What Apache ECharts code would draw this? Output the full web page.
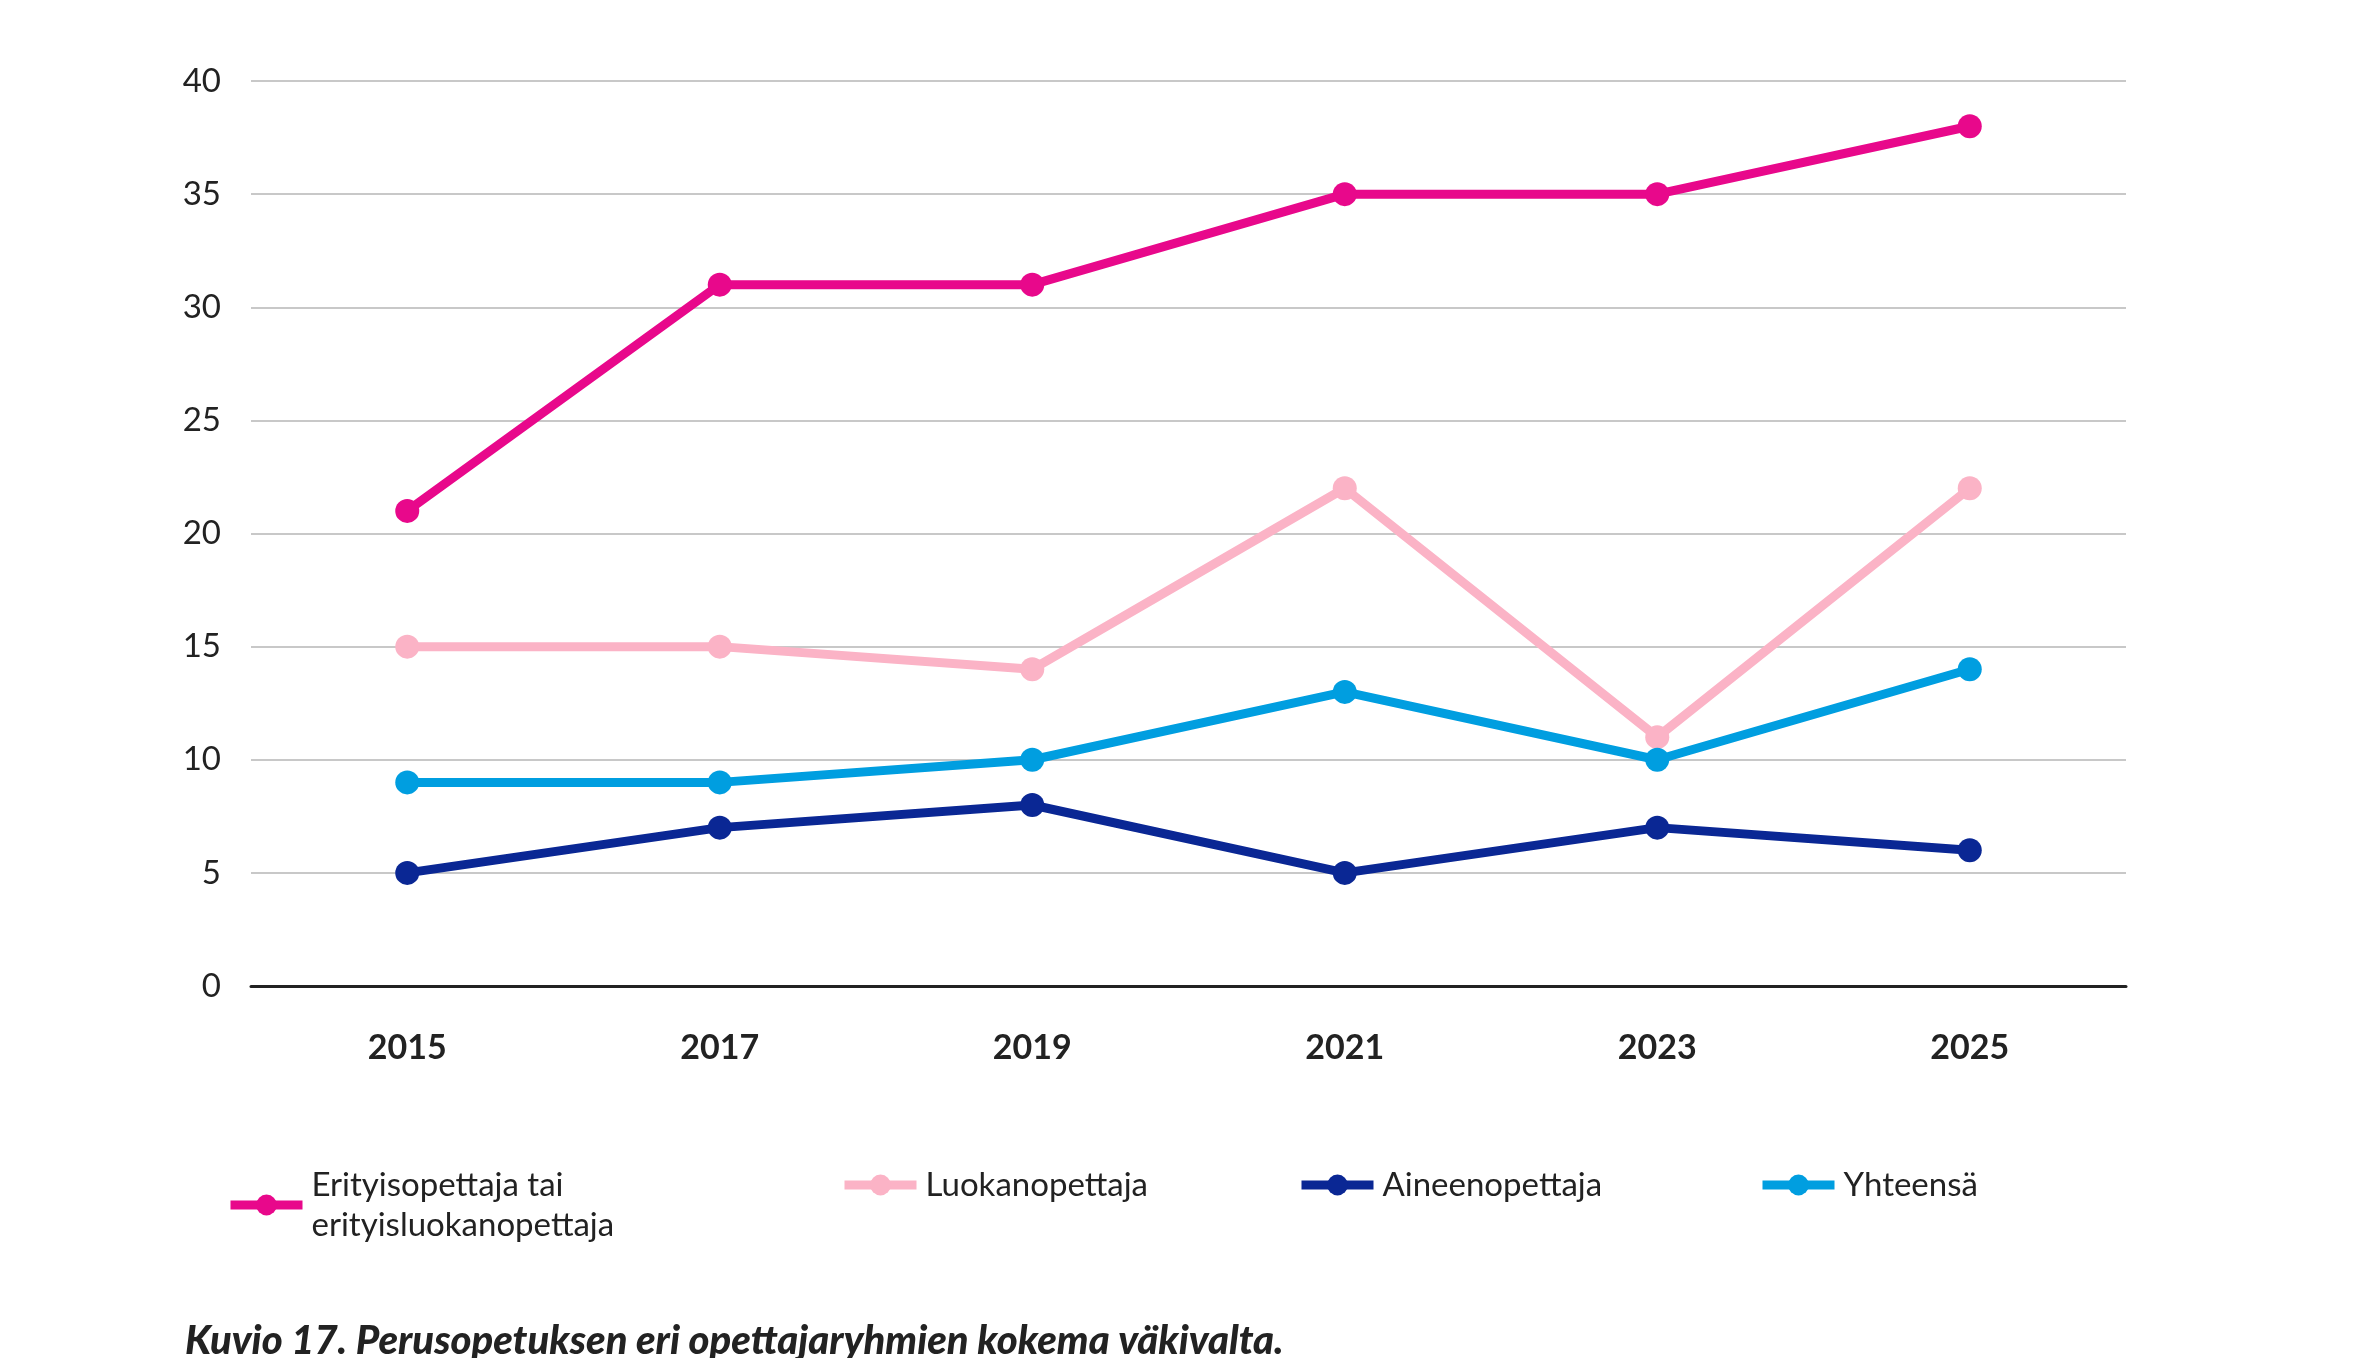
<!DOCTYPE html>
<html>
<head>
<meta charset="utf-8">
<script src="https://cdn.jsdelivr.net/npm/echarts@6/dist/echarts.min.js"></script>
<style>html,body{margin:0;padding:0;background:#fff}#main{width:2362px;height:1358px}</style>
</head>
<body>
<div id="main"></div>
<script>
var years = ['2015', '2017', '2019', '2021', '2023', '2025'];
var erityis = [21, 31, 31, 35, 35, 38];
var luokan = [15, 15, 14, 22, 11, 22];
var aineen = [5, 7, 8, 5, 7, 6];
var yhteensa = [9, 9, 10, 13, 10, 14];
var names = ['Erityisopettaja tai\nerityisluokanopettaja', 'Luokanopettaja', 'Aineenopettaja', 'Yhteensä'];
var colors = ['#e8088b', '#fbb3c6', '#0a2794', '#009ee0'];

var myChart = echarts.init(document.getElementById('main'));
var font = 'Lato, "Open Sans", sans-serif';

function mkSeries(i, data) {
    return {
        name: names[i],
        type: 'line',
        data: data,
        symbol: 'circle',
        symbolSize: 24,
        lineStyle: { width: 9, color: colors[i] },
        itemStyle: { color: colors[i] }
    };
}
function mkLegend(i, left) {
    return {
        data: [names[i]],
        left: left,
        top: 1160,
        itemWidth: 72,
        itemHeight: 26,
        itemGap: 10,
        lineStyle: { width: 9 },
        textStyle: { fontSize: 33, color: '#222', fontFamily: font, lineHeight: 40, padding: [0, 0, 0, 4] }
    };
}

var option = {
    animation: false,
    title: {
        text: 'Kuvio 17. Perusopetuksen eri opettajaryhmien kokema väkivalta.',
        left: 180,
        top: 1316,
        textStyle: { fontSize: 40, fontStyle: 'italic', fontWeight: 900, color: '#222', fontFamily: font }
    },
    legend: [mkLegend(0, 221), mkLegend(1, 835), mkLegend(2, 1292), mkLegend(3, 1753)],
    grid: { left: 251, right: 236, top: 81, bottom: 372 },
    xAxis: {
        type: 'category',
        data: years,
        axisTick: { show: false },
        axisLine: { lineStyle: { color: '#222', width: 3 } },
        axisLabel: { fontSize: 34, fontWeight: 'bold', color: '#222', margin: 45, fontFamily: font }
    },
    yAxis: {
        type: 'value',
        min: 0,
        max: 40,
        interval: 5,
        axisLabel: { fontSize: 33, color: '#222', margin: 30, fontFamily: font },
        splitLine: { lineStyle: { color: '#c8c8c8', width: 2 } }
    },
    series: [mkSeries(0, erityis), mkSeries(1, luokan), mkSeries(2, aineen), mkSeries(3, yhteensa)]
};
myChart.setOption(option);
</script>
</body>
</html>
